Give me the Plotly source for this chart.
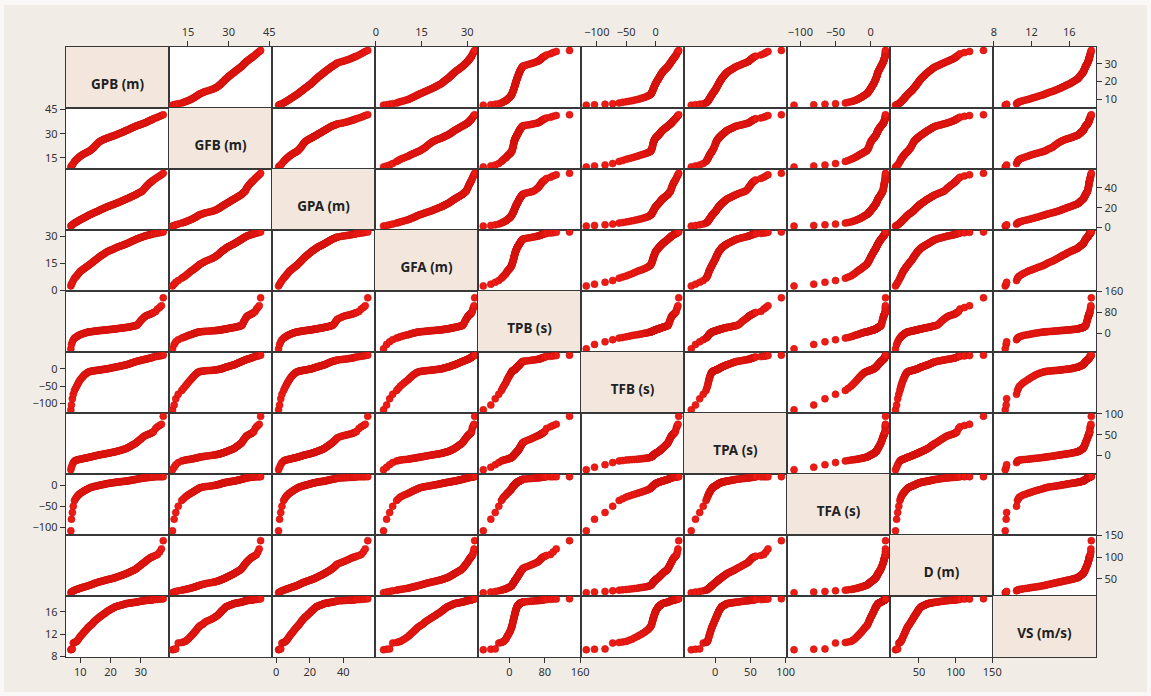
import plotly.graph_objects as go

# ---- data (sorted values of each variable) ----
GPB = [6.9, 7.1, 7.4, 7.7, 8.1, 8.45, 8.8, 9.1, 9.4, 9.7, 10.0, 10.35, 10.7, 11.0, 11.3, 11.65, 12.0,
       12.3, 12.6, 12.9, 13.2, 13.55, 13.9, 14.2, 14.5, 14.8, 15.1, 15.45, 15.8, 16.1, 16.4, 16.7,
       17.0, 17.35, 17.7, 18.0, 18.3, 18.6, 18.9, 19.25, 19.6, 19.9, 20.2, 20.55, 20.9, 21.2, 21.5,
       21.8, 22.1, 22.45, 22.8, 23.1, 23.4, 23.75, 24.1, 24.4, 24.7, 25.0, 25.3, 25.65, 26.0, 26.3,
       26.6, 26.9, 27.2, 27.55, 27.9, 28.2, 28.5, 28.8, 29.1, 29.45, 29.8, 30.1, 30.4, 30.75, 31.1,
       31.4, 31.7, 32.0, 32.3, 32.65, 33.0, 33.3, 33.6, 33.9, 34.2, 34.9, 35.5, 36.2, 36.8, 37.4]
GFB = [9.3, 9.9, 10.5, 11.4, 12.7, 13.35, 14.0, 14.5, 15.0, 15.5, 16.0, 16.4, 16.8, 17.15, 17.5,
       17.85, 18.2, 18.5, 18.8, 19.1, 19.4, 19.95, 20.5, 20.95, 21.4, 22.1, 22.8, 23.45, 24.1, 24.6,
       25.1, 25.4, 25.7, 26.05, 26.4, 26.6, 26.8, 27.05, 27.3, 27.5, 27.7, 27.95, 28.2, 28.4, 28.6,
       28.8, 29.0, 29.25, 29.5, 29.75, 30.0, 30.25, 30.5, 30.75, 31.0, 31.3, 31.6, 31.85, 32.1, 32.35,
       32.6, 32.9, 33.2, 33.45, 33.7, 34.0, 34.3, 34.55, 34.8, 35.0, 35.2, 35.4, 35.6, 35.85, 36.1,
       36.3, 36.5, 36.75, 37.0, 37.3, 37.6, 37.9, 38.2, 38.45, 38.7, 39.0, 39.3, 39.8, 40.3, 40.8,
       41.3, 41.8]
GPA = [1.5, 2.1, 2.8, 3.5, 4.5, 5.1, 5.7, 6.25, 6.8, 7.35, 7.9, 8.4, 8.9, 9.45, 10.0, 10.5, 11.0,
       11.55, 12.1, 12.55, 13.0, 13.45, 13.9, 14.35, 14.8, 15.2, 15.6, 16.05, 16.5, 16.95, 17.4,
       17.85, 18.3, 18.75, 19.2, 19.65, 20.1, 20.5, 20.9, 21.3, 21.7, 22.05, 22.4, 22.75, 23.1, 23.5,
       23.9, 24.25, 24.6, 25.0, 25.4, 25.85, 26.3, 26.75, 27.2, 27.6, 28.0, 28.4, 28.8, 29.25, 29.7,
       30.15, 30.6, 31.05, 31.5, 31.95, 32.4, 32.85, 33.3, 33.9, 34.5, 35.0, 35.5, 35.95, 36.4, 37.6,
       38.9, 39.9, 41.0, 42.0, 43.0, 43.9, 44.9, 45.6, 46.3, 47.0, 47.8, 49.3, 50.6, 51.9, 53.0, 54.5]
GFA = [2.5, 3.5, 4.5, 5.5, 6.8, 7.4, 8.0, 8.65, 9.3, 9.95, 10.6, 11.0, 11.4, 11.8, 12.2, 12.6, 13.0,
       13.35, 13.7, 14.1, 14.5, 14.95, 15.4, 15.8, 16.2, 16.6, 17.0, 17.45, 17.9, 18.3, 18.7, 19.05,
       19.4, 19.75, 20.1, 20.45, 20.8, 21.15, 21.5, 21.75, 22.0, 22.2, 22.4, 22.65, 22.9, 23.15, 23.4,
       23.65, 23.9, 24.1, 24.3, 24.5, 24.7, 24.9, 25.1, 25.3, 25.5, 25.7, 25.9, 26.15, 26.4, 26.65,
       26.9, 27.15, 27.4, 27.65, 27.9, 28.15, 28.4, 28.6, 28.8, 29.0, 29.2, 29.4, 29.6, 29.8, 30.0,
       30.15, 30.3, 30.45, 30.6, 30.75, 30.9, 31.05, 31.2, 31.3, 31.4, 31.6, 31.8, 32.0, 32.2, 32.4]
TPB = [-59, -42, -32, -24, -18, -15.5, -13, -10.5, -8, -6.5, -5, -3.5, -2, -0.5, 1, 2, 3, 4, 5, 5.5,
       6, 6.5, 7, 7.5, 8, 8.5, 9, 9.5, 10, 10.4, 10.8, 11.15, 11.5, 11.9, 12.3, 12.65, 13, 13.4, 13.8,
       14.2, 14.6, 15.0, 15.4, 15.85, 16.3, 16.7, 17.1, 17.55, 18, 18.5, 19, 19.5, 20, 20.5, 21, 21.5,
       22, 22.5, 23, 23.5, 24, 24.7, 25.5, 26.2, 27, 27.7, 28.5, 29.2, 30, 32.5, 36, 41, 46, 50, 54,
       58, 62, 64.5, 67, 68.5, 70, 71.5, 73, 74.5, 76, 78, 80, 84, 93, 99, 106, 136]
TFB = [-118, -104, -86, -73, -62, -56, -50, -45, -40, -35.5, -31, -27.5, -24, -21, -18, -15.5, -13,
       -11.2, -9.5, -8.5, -7.5, -7, -6.5, -6, -5.5, -5.15, -4.8, -4.4, -4, -3.6, -3.2, -2.8, -2.4,
       -2.0, -1.6, -1.2, -0.8, -0.4, 0, 0.6, 1.2, 1.8, 2.4, 3.0, 3.6, 4.2, 4.8, 5.3, 5.8, 6.4, 7, 7.6,
       8.2, 8.8, 9.4, 10.05, 10.7, 11.25, 11.8, 12.75, 13.7, 14.65, 15.6, 16.55, 17.5, 18.5, 19.5,
       20.35, 21.2, 21.9, 22.6, 23.3, 24, 24.7, 25.4, 26.1, 26.8, 27.4, 28, 28.7, 29.4, 30.1, 30.8,
       31.55, 32.3, 33.05, 33.8, 35.2, 36.2, 37.2, 38.2, 39.5]
TPA = [-34, -28, -22, -17, -13, -12, -11, -10.4, -9.8, -9.3, -8.8, -8.3, -7.8, -7.3, -6.8, -6.3,
       -5.8, -5.3, -4.8, -4.3, -3.8, -3.25, -2.7, -2.1, -1.5, -0.95, -0.4, 0.15, 0.7, 1.15, 1.6, 2.0,
       2.4, 2.85, 3.3, 3.75, 4.2, 4.6, 5, 5.5, 6, 6.5, 7, 7.5, 8, 8.5, 9, 9.5, 10, 10.7, 11.4, 12.1,
       12.8, 13.5, 14.2, 14.9, 15.6, 16.4, 17.2, 18.5, 19.8, 21.1, 22.5, 23.7, 25, 26.3, 27.6, 29,
       30.5, 32.5, 34.5, 36.5, 38.5, 40.5, 42.5, 44.5, 46.5, 47.5, 48.5, 49.5, 50.5, 51.5, 52.5, 53.5,
       54.5, 56, 57.5, 65, 69, 72, 75, 94]
TFA = [-109, -81, -65, -50, -36, -32, -28, -25.5, -23, -21, -19, -17.5, -16, -14.5, -13, -11.7,
       -10.5, -9.2, -8, -6.7, -5.5, -4.7, -4, -3.4, -2.8, -2.25, -1.7, -1.15, -0.6, -0.1, 0.4, 0.9,
       1.4, 1.9, 2.4, 2.9, 3.4, 3.9, 4.4, 4.8, 5.2, 5.55, 5.9, 6.25, 6.6, 6.95, 7.3, 7.65, 8, 8.25,
       8.5, 8.75, 9, 9.25, 9.5, 9.75, 10, 10.25, 10.5, 10.9, 11.3, 11.75, 12.2, 12.6, 13, 13.4, 13.8,
       14.25, 14.7, 15.1, 15.5, 15.95, 16.4, 16.8, 17.2, 17.6, 18, 18.3, 18.6, 18.85, 19.1, 19.35,
       19.6, 19.85, 20.1, 20.3, 20.5, 20.7, 20.8, 20.9, 21, 21.1]
D = [18, 19.5, 21, 22.5, 24, 24.75, 25.5, 26.25, 27, 27.75, 28.5, 29.25, 30, 30.65, 31.3, 31.95,
     32.6, 33.3, 34, 34.75, 35.5, 36.35, 37.2, 38.05, 38.9, 39.7, 40.5, 41.2, 41.9, 42.5, 43.1, 43.7,
     44.3, 44.95, 45.6, 46.2, 46.8, 47.4, 48, 48.55, 49.1, 49.65, 50.2, 50.8, 51.4, 52.0, 52.6, 53.4,
     54.2, 55.0, 55.8, 56.6, 57.4, 58.2, 59, 59.8, 60.6, 61.55, 62.5, 63.5, 64.5, 65.5, 66.5, 67.5,
     68.5, 69.5, 70.5, 72, 73.5, 75.2, 77, 78.7, 80.5, 82.2, 84, 85.8, 87.7, 89.3, 91, 92.7, 94.5,
     96.2, 98, 99, 100, 101, 102, 104, 106, 112, 119, 138]
VS = [9.2, 9.3, 9.35, 10.4, 10.5, 10.6, 10.7, 10.9, 11.1, 11.35, 11.6, 11.8, 12.0, 12.2, 12.4, 12.6,
      12.8, 13.0, 13.2, 13.35, 13.5, 13.65, 13.8, 14.0, 14.2, 14.35, 14.5, 14.65, 14.8, 14.95, 15.1,
      15.2, 15.3, 15.45, 15.6, 15.7, 15.8, 15.95, 16.1, 16.2, 16.3, 16.4, 16.5, 16.6, 16.7, 16.8,
      16.9, 16.95, 17.0, 17.05, 17.1, 17.15, 17.2, 17.25, 17.3, 17.35, 17.4, 17.45, 17.5, 17.52,
      17.55, 17.58, 17.6, 17.62, 17.65, 17.68, 17.7, 17.72, 17.75, 17.78, 17.8, 17.85, 17.9, 17.92,
      17.95, 17.98, 18.0, 18.02, 18.05, 18.08, 18.1, 18.1, 18.1, 18.12, 18.15, 18.18, 18.2, 18.2,
      18.25, 18.3, 18.3, 18.35]

labels = ["GPB (m)", "GFB (m)", "GPA (m)", "GFA (m)", "TPB (s)", "TFB (s)", "TPA (s)", "TFA (s)",
          "D (m)", "VS (m/s)"]
series = [GPB, GFB, GPA, GFA, TPB, TFB, TPA, TFA, D, VS]
axis_ranges = [[5.3, 39.3], [8, 46], [-2.4, 58.8], [-0.3, 33.5], [-71, 162], [-127, 48.5],
               [-44.3, 102], [-119, 27.5], [10.5, 151], [7.9, 18.85]]
tick_values = [[10, 20, 30], [15, 30, 45], [0, 20, 40], [0, 15, 30], [0, 80, 160], [-100, -50, 0],
               [0, 50, 100], [-100, -50, 0], [50, 100, 150], [8, 12, 16]]

lengths = {len(s) for s in series}
assert len(lengths) == 1, [len(s) for s in series]

N = len(series)
W, H = 1151, 696
ML, MR, MT, MB = 66, 55, 47, 39

LINE = "#383838"
TICKFONT = dict(family="Noto Sans", size=11, color="#333333")
PAPER = "#f2ece6"
DIAG = "#f3e7dd"

fig = go.Figure()
layout = {}
shapes = []

for i in range(N):
    for j in range(N):
        n = i * N + j + 1
        sfx = "" if n == 1 else str(n)
        xa = dict(domain=[j / N, (j + 1) / N], range=axis_ranges[j], anchor="y" + sfx,
                  showgrid=False, zeroline=False, showline=True, mirror=True,
                  linecolor=LINE, linewidth=1.4, ticks="", showticklabels=False,
                  fixedrange=True)
        ya = dict(domain=[1 - (i + 1) / N, 1 - i / N], range=axis_ranges[i], anchor="x" + sfx,
                  showgrid=False, zeroline=False, showline=True, mirror=True,
                  linecolor=LINE, linewidth=1.4, ticks="", showticklabels=False,
                  fixedrange=True)
        tick_style = dict(ticks="outside", ticklen=5, tickwidth=1, tickcolor="#333333",
                          showticklabels=True, tickfont=TICKFONT)
        if i == N - 1 and j % 2 == 0:
            xa.update(tick_style, tickvals=tick_values[j], side="bottom")
        if i == 0 and j % 2 == 1:
            xa.update(tick_style, tickvals=tick_values[j], side="top")
        if j == 0 and i % 2 == 1:
            ya.update(tick_style, tickvals=tick_values[i], side="left")
        if j == N - 1 and i % 2 == 0:
            ya.update(tick_style, tickvals=tick_values[i], side="right")
        layout["xaxis" + sfx] = xa
        layout["yaxis" + sfx] = ya

        if i != j:
            fig.add_trace(go.Scatter(
                x=series[j], y=series[i], mode="markers",
                xaxis="x" + sfx, yaxis="y" + sfx,
                marker=dict(size=7, color="#ee1a14", line=dict(color="#c80f0a", width=0.6)),
                hoverinfo="skip", showlegend=False))
        else:
            rx, ry = axis_ranges[j], axis_ranges[i]
            shapes.append(dict(type="rect", xref="x" + sfx, yref="y" + sfx,
                               x0=rx[0], x1=rx[1], y0=ry[0], y1=ry[1],
                               fillcolor=DIAG, line=dict(width=0), layer="below"))
            cx = (rx[0] + rx[1]) / 2
            cy = ry[0] + (ry[1] - ry[0]) * 0.37
            fig.add_trace(go.Scatter(
                x=[cx], y=[cy], mode="text", text=["<b>" + labels[i] + "</b>"],
                textposition="middle center",
                textfont=dict(family="Noto Sans", size=13.5, color="#222222"),
                xaxis="x" + sfx, yaxis="y" + sfx, hoverinfo="skip", showlegend=False))

# light outer frame around the beige panel
pw = W - ML - MR
ph = H - MT - MB
def px_x(px):
    return (px - ML) / pw
def px_y(py):
    return (H - MB - py) / ph
for (x0, x1, y0, y1) in [(0, 4, 0, H), (W - 4, W, 0, H), (0, W, 0, 5), (0, W, H - 4, H)]:
    shapes.append(dict(type="rect", xref="paper", yref="paper",
                       x0=px_x(x0), x1=px_x(x1), y0=px_y(y1), y1=px_y(y0),
                       fillcolor="#faf8f6", line=dict(width=0), layer="above"))

fig.update_layout(**layout)
fig.update_layout(
    width=W, height=H,
    margin=dict(l=ML, r=MR, t=MT, b=MB),
    paper_bgcolor=PAPER, plot_bgcolor="white",
    shapes=shapes,
    showlegend=False,
    font=dict(family="Noto Sans"),
)

fig.write_html("out.html", config={"displayModeBar": False})
